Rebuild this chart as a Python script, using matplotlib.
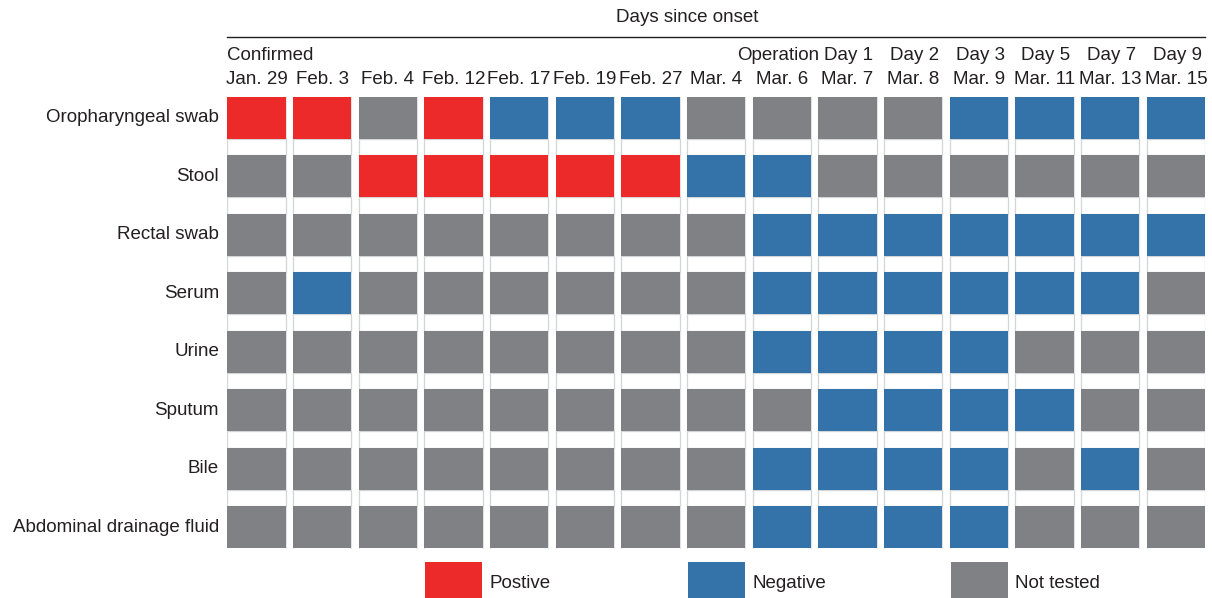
import matplotlib
matplotlib.use("Agg")
import matplotlib.pyplot as plt
from matplotlib.patches import Rectangle

plt.rcParams['font.family'] = ['Liberation Sans', 'DejaVu Sans']

dates = ["Jan. 29", "Feb. 3", "Feb. 4", "Feb. 12", "Feb. 17", "Feb. 19", "Feb. 27",
         "Mar. 4", "Mar. 6", "Mar. 7", "Mar. 8", "Mar. 9", "Mar. 11", "Mar. 13", "Mar. 15"]
events = {0: "Confirmed", 8: "Operation", 9: "Day 1", 10: "Day 2", 11: "Day 3",
          12: "Day 5", 13: "Day 7", 14: "Day 9"}
samples = ["Oropharyngeal swab", "Stool", "Rectal swab", "Serum", "Urine",
           "Sputum", "Bile", "Abdominal drainage fluid"]
# P = positive, N = negative, X = not tested
results = [
    "PPXPNNNXXXXNNNN",
    "XXPPPPPNNXXXXXX",
    "XXXXXXXXNNNNNNN",
    "XNXXXXXXNNNNNNX",
    "XXXXXXXXNNNNXXX",
    "XXXXXXXXXNNNNXX",
    "XXXXXXXXNNNNXNX",
    "XXXXXXXXNNNNXXX",
]
legend_labels = {"P": "Postive", "N": "Negative", "X": "Not tested"}
colors = {"P": "#ED2A2A", "N": "#3473AA", "X": "#808185"}

W, H = 1212, 598
fig = plt.figure(figsize=(W / 100, H / 100), dpi=100)
ncol, nrow = len(dates), len(samples)
cw = 0.888   # cell width in column units
ch = 0.7235  # cell height in row units
left_px, right_px, top_px = 227.3, 1205.0, 96.7
row_pitch = 58.47
bottom_px = top_px + nrow * row_pitch
ax = fig.add_axes([left_px / W, 1 - bottom_px / H, (right_px - left_px) / W,
                   (bottom_px - top_px) / H])
xmax = ncol - 1 + cw
ax.set_xlim(0, xmax)
ax.set_ylim(nrow, 0)
ax.axis("off")

light = "#D3D6D9"
# vertical gap guide lines
for i in range(1, ncol):
    for xx in (i - (1 - cw), i):
        ax.plot([xx, xx], [0, nrow - (1 - ch)], color="#E0E2E4", lw=0.8, zorder=1)

for r, row in enumerate(results):
    for i, code in enumerate(row):
        ax.add_patch(Rectangle((i, r), cw, ch, facecolor=colors[code],
                               edgecolor="none", zorder=3))
        if r < nrow - 1:
            ax.add_patch(Rectangle((i, r + ch), cw, 1 - ch,
                                   facecolor="white", edgecolor=light, lw=0.9, zorder=2))

tc = "#231F20"
fs = 13.5
for r, s in enumerate(samples):
    ax.text(-0.126, r + ch / 2, s, ha="right", va="center", fontsize=fs,
            color=tc, clip_on=False)
for i, d in enumerate(dates):
    ax.text(i + cw / 2, -0.298, d, ha="center", va="center", fontsize=fs, color=tc,
            clip_on=False)
for i, e in events.items():
    if i == 0:
        ax.text(0.0, -0.713, e, ha="left", va="center", fontsize=fs, color=tc, clip_on=False)
    elif e == "Operation":
        ax.text(i + cw / 2 - 0.05, -0.713, e, ha="center", va="center", fontsize=fs,
                color=tc, clip_on=False)
    else:
        ax.text(i + cw / 2 + 0.02, -0.713, e, ha="center", va="center", fontsize=fs,
                color=tc, clip_on=False)
ax.plot([0, xmax], [-1.02, -1.02], color=tc, lw=1.0, clip_on=False)
ax.text(7.0, -1.346, "Days since onset", ha="center", va="center", fontsize=fs,
        color=tc, clip_on=False)

leg_x = {"P": 3.01, "N": 7.01, "X": 11.02}
for k, lbl in legend_labels.items():
    ax.add_patch(Rectangle((leg_x[k], 7.95), 0.868, 0.7, facecolor=colors[k],
                           edgecolor="none", clip_on=False))
    ax.text(leg_x[k] + 0.98, 8.32, lbl, ha="left", va="center", fontsize=fs,
            color=tc, clip_on=False)

fig.savefig("out.png", dpi=100)
